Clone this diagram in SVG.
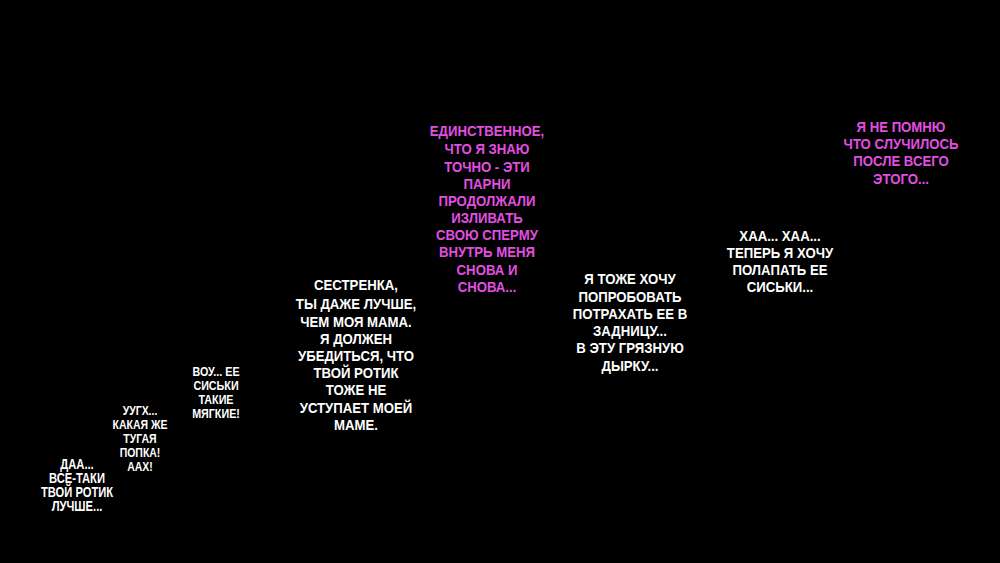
<svg xmlns="http://www.w3.org/2000/svg" width="1000" height="563" viewBox="0 0 1000 563">
<style>
text{font-family:"Liberation Sans","DejaVu Sans",sans-serif;font-weight:bold;text-anchor:middle;fill:#ffffff}
.pink text{fill:#e24fe0}
.s13{font-size:14px}
.s12{font-size:12.5px}
.s14{font-size:15px}
</style>
<rect width="1000" height="563" fill="#000000"/>
<g id="b1" class="s13" transform="translate(77,0) scale(0.8,1)">
<text x="0" y="469">ДАА...</text>
<text x="0" y="483">ВСЕ-ТАКИ</text>
<text x="0" y="497">ТВОЙ РОТИК</text>
<text x="0" y="511">ЛУЧШЕ...</text>
</g>
<g id="b2" class="s12" transform="translate(140,0) scale(0.84,1)">
<text x="0" y="415">УУГХ...</text>
<text x="0" y="429">КАКАЯ ЖЕ</text>
<text x="0" y="443">ТУГАЯ</text>
<text x="0" y="457">ПОПКА!</text>
<text x="0" y="471">ААХ!</text>
</g>
<g id="b3" class="s12" transform="translate(216,0) scale(0.86,1)">
<text x="0" y="376">ВОУ... ЕЕ</text>
<text x="0" y="390">СИСЬКИ</text>
<text x="0" y="404">ТАКИЕ</text>
<text x="0" y="418">МЯГКИЕ!</text>
</g>
<g id="b4" class="s14" transform="translate(356,0) scale(0.88,1)">
<text x="0" y="290">СЕСТРЕНКА,</text>
<text x="0" y="309">ТЫ ДАЖЕ ЛУЧШЕ,</text>
<text x="0" y="327">ЧЕМ МОЯ МАМА.</text>
<text x="0" y="344">Я ДОЛЖЕН</text>
<text x="0" y="361">УБЕДИТЬСЯ, ЧТО</text>
<text x="0" y="378">ТВОЙ РОТИК</text>
<text x="0" y="395">ТОЖЕ НЕ</text>
<text x="0" y="413">УСТУПАЕТ МОЕЙ</text>
<text x="0" y="430">МАМЕ.</text>
</g>
<g id="b5" class="s14 pink" transform="translate(487,0) scale(0.88,1)">
<text x="0" y="136">ЕДИНСТВЕННОЕ,</text>
<text x="0" y="154">ЧТО Я ЗНАЮ</text>
<text x="0" y="172">ТОЧНО - ЭТИ</text>
<text x="0" y="189">ПАРНИ</text>
<text x="0" y="206">ПРОДОЛЖАЛИ</text>
<text x="0" y="223">ИЗЛИВАТЬ</text>
<text x="0" y="240">СВОЮ СПЕРМУ</text>
<text x="0" y="257">ВНУТРЬ МЕНЯ</text>
<text x="0" y="275">СНОВА И</text>
<text x="0" y="292">СНОВА...</text>
</g>
<g id="b6" class="s14" transform="translate(630,0) scale(0.88,1)">
<text x="0" y="284">Я ТОЖЕ ХОЧУ</text>
<text x="0" y="302">ПОПРОБОВАТЬ</text>
<text x="0" y="319">ПОТРАХАТЬ ЕЕ В</text>
<text x="0" y="336">ЗАДНИЦУ...</text>
<text x="0" y="353">В ЭТУ ГРЯЗНУЮ</text>
<text x="0" y="371">ДЫРКУ...</text>
</g>
<g id="b7" class="s14" transform="translate(780,0) scale(0.88,1)">
<text x="0" y="241">ХАА... ХАА...</text>
<text x="0" y="258">ТЕПЕРЬ Я ХОЧУ</text>
<text x="0" y="275">ПОЛАПАТЬ ЕЕ</text>
<text x="0" y="292">СИСЬКИ...</text>
</g>
<g id="b8" class="s14 pink" transform="translate(901,0) scale(0.88,1)">
<text x="0" y="132">Я НЕ ПОМНЮ</text>
<text x="0" y="149">ЧТО СЛУЧИЛОСЬ</text>
<text x="0" y="166">ПОСЛЕ ВСЕГО</text>
<text x="0" y="184">ЭТОГО...</text>
</g>
<g id="connectors"></g>
</svg>
